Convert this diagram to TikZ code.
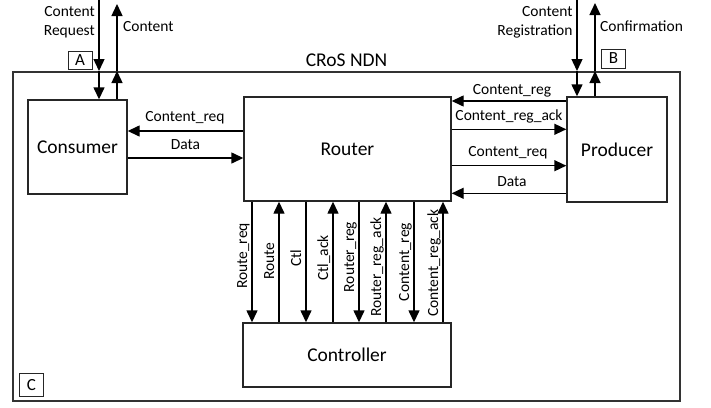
\documentclass[tikz,border=0pt]{standalone}
\usepackage{fontspec}
\setmainfont{Carlito}
\usetikzlibrary{arrows.meta}
\begin{document}
\begin{tikzpicture}[x=1pt,y=-1pt,
  every node/.style={font=\fontsize{15.5}{18}\selectfont},
  blk/.style={draw=black!85, line width=1.4pt, inner sep=0pt, font=\fontsize{19.5}{22}\selectfont},
  tag/.style={draw=black!85, line width=1pt, inner sep=0pt, minimum width=24pt, font=\fontsize{17}{17}\selectfont},
  flow/.style={line width=1.4pt, -{Triangle[length=12pt,width=11pt]}},
  lbl/.style={inner sep=0pt, anchor=base},
  vlbl/.style={inner sep=0pt, anchor=base, rotate=90}]
\useasboundingbox (0,0) rectangle (711,407);

% network frame
\node[draw=black!80, line width=2pt, minimum width=667pt, minimum height=329pt, inner sep=0pt] (ndn) at (346.5,236.5) {};
\node[lbl, font=\fontsize{19.5}{22}\selectfont] (title) at (346.5,66) {CRoS NDN};

% main blocks
\node[blk, minimum width=99pt,  minimum height=94pt]  (cons) at (77.5,147)  {Consumer};
\node[blk, minimum width=207pt, minimum height=104pt] (rout) at (347.5,149) {Router};
\node[blk, minimum width=100pt, minimum height=105pt] (prod) at (617,149.5) {Producer};
\node[blk, minimum width=208pt, minimum height=64pt]  (ctrl) at (347,355)   {Controller};

% interface tags
\node[tag, minimum height=18pt] (tA) at (80,60.5) {A};
\node[tag, minimum height=19pt] (tB) at (613.5,58.5) {B};
\node[tag, minimum height=23pt] (tC) at (31.5,385) {C};

% consumer side interface
\coordinate (reqTop) at (99,0);
\coordinate (cntTop) at (117,4);
\draw[flow] (reqTop) -- (reqTop |- ndn.north);
\draw[flow] (reqTop |- ndn.north) -- (reqTop |- cons.north);
\draw[flow] (cntTop |- cons.north) -- (cntTop |- ndn.north);
\draw[flow] (cntTop |- ndn.north) -- (cntTop);
\node[lbl, anchor=base east] (lReq1) at (95,16.7) {Content};
\node[lbl, anchor=base east] (lReq2) at (95,35) {Request};
\node[lbl, anchor=base west] (lCnt) at (123,31.7) {Content};

% producer side interface
\coordinate (regTop) at (577,0);
\coordinate (cfmTop) at (595,3);
\draw[flow] (regTop) -- (regTop |- ndn.north);
\draw[flow] (regTop |- ndn.north) -- (regTop |- prod.north);
\draw[flow] (cfmTop |- prod.north) -- (cfmTop |- ndn.north);
\draw[flow] (cfmTop |- ndn.north) -- (cfmTop);
\node[lbl, anchor=base east] (lReg1) at (572.7,16.7) {Content};
\node[lbl, anchor=base east] (lReg2) at (572.7,35) {Registration};
\node[lbl, anchor=base west] (lCfm) at (600,31.7) {Confirmation};

% consumer <-> router
\coordinate (h1) at (0,131);
\coordinate (h2) at (0,158);
\draw[flow] (rout.west |- h1) -- (cons.east |- h1);
\draw[flow] (cons.east |- h2) -- (rout.west |- h2);
\node[lbl] (lh1) at (185,121.5) {Content\_req};
\node[lbl] (lh2) at (185.5,149) {Data};

% router <-> producer
\coordinate (h3) at (0,101);
\coordinate (h4) at (0,129.3);
\coordinate (h5) at (0,165.7);
\coordinate (h6) at (0,193.3);
\draw[flow] (prod.west |- h3) -- (rout.east |- h3);
\draw[flow] (rout.east |- h4) -- (prod.west |- h4);
\draw[flow] (rout.east |- h5) -- (prod.west |- h5);
\draw[flow] (prod.west |- h6) -- (rout.east |- h6);
\node[lbl] (lh3) at (512,94) {Content\_reg};
\node[lbl] (lh4) at (509,120.7) {Content\_reg\_ack};
\node[lbl] (lh5) at (508,156.7) {Content\_req};
\node[lbl] (lh6) at (512,186) {Data};

% router <-> controller
\foreach \i/\x/\dir/\yc/\t in {
  1/252/d/256/Route\_req,
  2/279/u/261/Route,
  3/306/d/258/Ctl,
  4/333/u/258/Ctl\_ack,
  5/359/d/257/Router\_reg,
  6/386/u/267/Router\_reg\_ack,
  7/414/d/262/Content\_reg,
  8/443/u/263/Content\_reg\_ack}{
  \coordinate (v\i) at (\x,0);
  \if d\dir
    \draw[flow] (v\i |- rout.south) -- (v\i |- ctrl.north);
  \else
    \draw[flow] (v\i |- ctrl.north) -- (v\i |- rout.south);
  \fi
  \node[vlbl] (lv\i) at (\x-5,\yc) {\t};
}
\end{tikzpicture}
\end{document}
